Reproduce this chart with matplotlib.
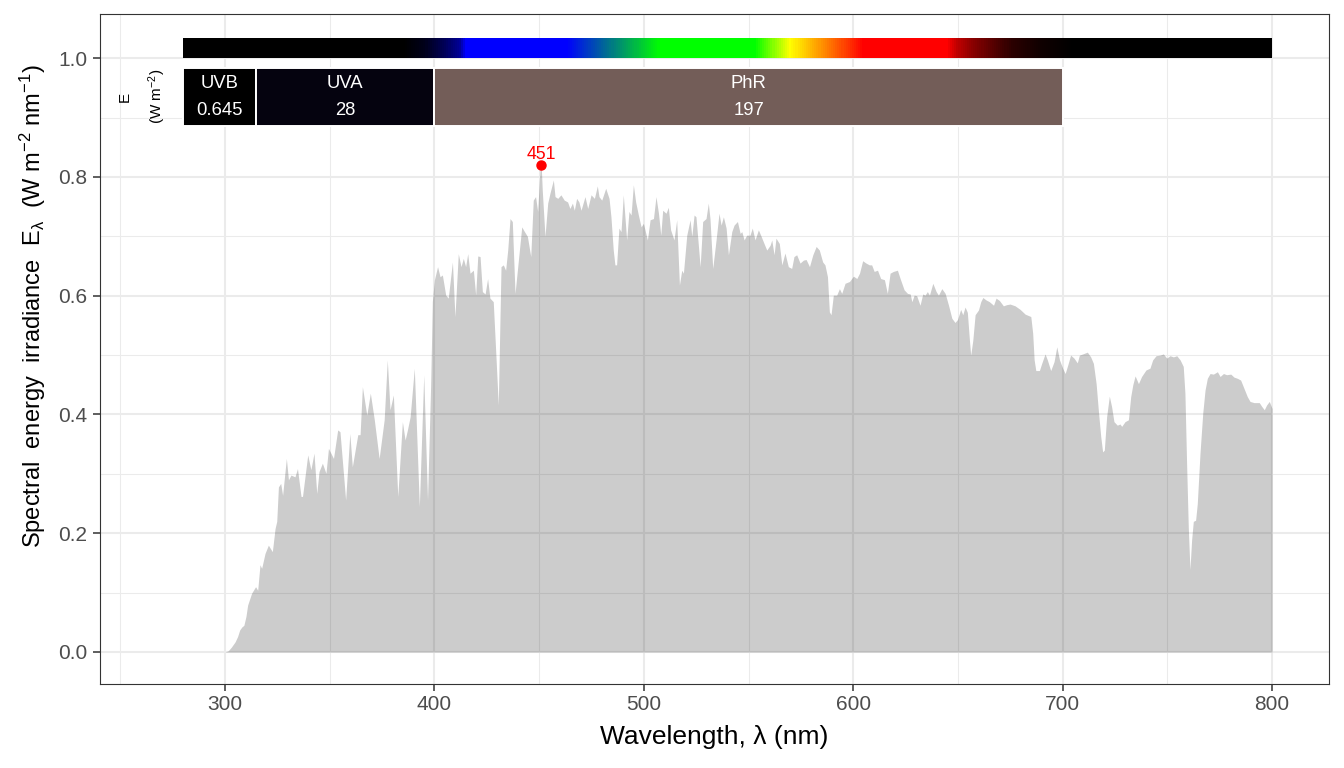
import numpy as np
import matplotlib
matplotlib.use("Agg")
import matplotlib.pyplot as plt
from matplotlib.patches import Rectangle
from matplotlib.ticker import MultipleLocator

plt.rcParams['font.family'] = ['Liberation Sans', 'DejaVu Sans']
plt.rcParams['mathtext.fontset'] = 'custom'
plt.rcParams['mathtext.rm'] = 'Liberation Sans'
plt.rcParams['mathtext.it'] = 'Liberation Sans:italic'
plt.rcParams['mathtext.bf'] = 'Liberation Sans:bold'

# ---- spectrum data (wavelength nm, spectral irradiance W m-2 nm-1) ----
wavelength = [280, 295, 300, 301.5, 303, 304.8, 306, 307, 308, 309, 310, 310.8, 312.7, 314.6, 315.6,
              316.7, 317.5, 319.1, 320.7, 322.6, 323.9, 324.7, 325.5, 326.6, 327.5, 329.3, 330.3, 331.5,
              333.4, 334.6, 336.3, 337, 339.5, 341, 342.5, 343.8, 344.9, 346.5, 348.2, 349.4, 351.8,
              353.8, 354.9, 357.6, 359.6, 360.8, 363.4, 364.5, 365.6, 367.7, 369.4, 371.3, 373.6, 376,
              377.5, 378.8, 380.4, 382.5, 384.7, 386, 387.1, 388.4, 390.4, 392.8, 394.9, 396.7, 398.2,
              399, 400, 401.5, 402.7, 403.8, 405.4, 406.6, 408.6, 409.8, 411.4, 412.7, 413.8, 414.9,
              415.9, 417, 418.6, 419.7, 420.7, 421.8, 422.9, 424.2, 425.4, 426.5, 428.1, 429.4, 430.5,
              431.8, 432.9, 434, 435, 436.1, 437.2, 438.5, 440.1, 441.7, 443, 444.4, 446, 447.2, 448.3,
              449.3, 450.4, 451, 451.5, 452.8, 454.1, 455.2, 456.8, 457.6, 458.9, 460.4, 462, 463.6,
              464.7, 465.9, 466.8, 467.9, 469, 470, 471.9, 473.2, 474.8, 476.4, 477.8, 478.6, 479.9,
              481.8, 483.4, 484.3, 485.4, 486.2, 487, 488.1, 489.1, 490.2, 491.8, 492.9, 493.9, 495,
              496.1, 497.4, 498.7, 499.8, 501.7, 503, 504.6, 505.8, 507, 508.1, 509, 510.6, 511.7,
              512.8, 514.4, 515.7, 517, 518.1, 518.9, 520.5, 522.1, 522.9, 524, 524.9, 526.9, 528.1,
              529.7, 530.8, 531.6, 532.9, 534.5, 535.9, 536.9, 538, 539.3, 540.4, 542, 543.1, 544.7,
              546, 546.8, 547.9, 549.1, 550.7, 551.8, 553.1, 554.7, 555.8, 557.4, 558.7, 560.3, 561.1,
              562.2, 563.1, 564.7, 565.9, 567.4, 569, 570.6, 571.7, 573, 574.6, 576.2, 577.5, 579.1,
              580.7, 582.3, 583.8, 585.4, 586.5, 587.7, 588.6, 589.4, 590.5, 592.1, 593.4, 594.5,
              596.1, 598.2, 600.1, 601.7, 603, 604.5, 606.1, 607.7, 608.8, 610, 611.6, 613.1, 614.9,
              616.3, 617.6, 619.2, 621.1, 622.4, 624.3, 625.9, 627.2, 628, 629.1, 630.3, 631.9, 633.2,
              634.3, 635.4, 636.4, 638, 639.6, 640.7, 642.3, 643.9, 645.5, 647.1, 648.6, 649.8, 651.3,
              652.3, 653.4, 654.5, 655.5, 656.1, 657.1, 658.2, 659.8, 660.9, 661.9, 663.4, 665, 667,
              668.2, 669.8, 671.7, 673.3, 674.9, 677.3, 679.7, 682.1, 684.8, 685.7, 686.4, 687.2,
              688.9, 690, 691.6, 692.7, 694.3, 695.9, 697.2, 698.5, 700, 701.2, 702.5, 703.8, 705.4,
              707, 708, 709.6, 711.8, 713.4, 714.7, 716, 717.1, 718.2, 719.1, 719.9, 721, 722.3, 723.4,
              724.5, 726.1, 727.4, 728.2, 729.8, 731.4, 732.5, 733.5, 734.6, 736.2, 737.7, 739.8,
              741.7, 743, 744.6, 746.5, 748.1, 749.7, 751.3, 752.9, 754.5, 756.1, 757.6, 758.4, 759.2,
              760, 760.8, 761.6, 762.4, 763.5, 764.3, 765.6, 766.9, 768, 769.1, 770.4, 772, 773.9,
              775.2, 776.8, 778.3, 780.3, 781.8, 783.4, 785, 786.6, 788.2, 789.5, 791.4, 793.9, 795,
              796.3, 797.4, 798.7, 800]
irradiance = [0, 0, 0, 0.002, 0.008, 0.017, 0.026, 0.037, 0.042, 0.045, 0.06, 0.079, 0.099, 0.110, 0.104,
              0.147, 0.141, 0.166, 0.180, 0.169, 0.208, 0.22, 0.278, 0.284, 0.264, 0.326, 0.290, 0.298,
              0.295, 0.309, 0.262, 0.262, 0.332, 0.307, 0.335, 0.267, 0.304, 0.318, 0.301, 0.343, 0.326,
              0.374, 0.371, 0.256, 0.368, 0.312, 0.366, 0.366, 0.447, 0.399, 0.436, 0.391, 0.326, 0.391,
              0.492, 0.408, 0.433, 0.262, 0.388, 0.357, 0.374, 0.396, 0.478, 0.245, 0.467, 0.256, 0.45,
              0.59, 0.627, 0.649, 0.632, 0.635, 0.601, 0.596, 0.657, 0.565, 0.671, 0.649, 0.663, 0.649,
              0.671, 0.638, 0.643, 0.601, 0.667, 0.666, 0.607, 0.603, 0.629, 0.596, 0.590, 0.497, 0.416,
              0.649, 0.652, 0.643, 0.677, 0.730, 0.725, 0.604, 0.660, 0.716, 0.708, 0.700, 0.666, 0.761, 0.767,
              0.742, 0.812, 0.820, 0.778, 0.700, 0.756, 0.773, 0.795, 0.767, 0.764, 0.770, 0.761, 0.758,
              0.747, 0.756, 0.744, 0.764, 0.758, 0.744, 0.767, 0.747, 0.770, 0.764, 0.785, 0.767, 0.761,
              0.781, 0.764, 0.733, 0.677, 0.652, 0.652, 0.714, 0.708, 0.770, 0.694, 0.742, 0.736, 0.787,
              0.758, 0.736, 0.716, 0.722, 0.694, 0.728, 0.730, 0.767, 0.739, 0.702, 0.744, 0.739, 0.749,
              0.711, 0.694, 0.728, 0.618, 0.643, 0.638, 0.702, 0.728, 0.700, 0.736, 0.733, 0.649, 0.725,
              0.730, 0.756, 0.730, 0.646, 0.694, 0.739, 0.719, 0.733, 0.714, 0.669, 0.708, 0.719, 0.725,
              0.705, 0.708, 0.694, 0.702, 0.702, 0.714, 0.694, 0.711, 0.702, 0.688, 0.677, 0.685, 0.694,
              0.669, 0.697, 0.688, 0.652, 0.672, 0.649, 0.646, 0.666, 0.669, 0.655, 0.660, 0.661, 0.649,
              0.669, 0.683, 0.677, 0.657, 0.652, 0.632, 0.573, 0.568, 0.601, 0.601, 0.612, 0.604,
              0.621, 0.624, 0.633, 0.629, 0.638, 0.659, 0.655, 0.652, 0.652, 0.641, 0.643, 0.629, 0.627,
              0.604, 0.638, 0.641, 0.643, 0.629, 0.610, 0.604, 0.603, 0.590, 0.601, 0.600, 0.584, 0.603,
              0.601, 0.607, 0.601, 0.621, 0.607, 0.601, 0.612, 0.604, 0.584, 0.562, 0.555, 0.560, 0.577,
              0.568, 0.581, 0.572, 0.525, 0.500, 0.525, 0.568, 0.576, 0.590, 0.597, 0.593, 0.590, 0.584,
              0.596, 0.592, 0.583, 0.585, 0.586, 0.583, 0.577, 0.569, 0.565, 0.537, 0.492, 0.474,
              0.474, 0.486, 0.502, 0.492, 0.474, 0.489, 0.514, 0.492, 0.478, 0.469, 0.484, 0.500, 0.495,
              0.487, 0.500, 0.502, 0.505, 0.497, 0.486, 0.452, 0.405, 0.363, 0.337, 0.340, 0.396, 0.431, 0.413,
              0.388, 0.382, 0.384, 0.380, 0.388, 0.391, 0.430, 0.450, 0.465, 0.452, 0.464, 0.475,
              0.478, 0.492, 0.499, 0.500, 0.502, 0.495, 0.499, 0.497, 0.499, 0.492, 0.481, 0.436, 0.318,
              0.211, 0.139, 0.189, 0.220, 0.222, 0.250, 0.335, 0.402, 0.441, 0.461, 0.469, 0.468, 0.472,
              0.464, 0.469, 0.467, 0.468, 0.463, 0.461, 0.458, 0.444, 0.430, 0.422, 0.420, 0.420, 0.414,
              0.408, 0.416, 0.422, 0.410]

# peak annotation
peak_wl = 451
peak_val = 0.820

# wavebands
band_names = ["UVB", "UVA", "PhR"]
band_lo = [280, 315, 400]
band_hi = [315, 400, 700]
band_values = ["0.645", "28", "197"]
band_colors = ["#000000", "#05030F", "#735D58"]

# colour bar anchors (wavelength -> RGB)
cbar_wl = [280, 385, 395, 405, 412, 415, 463, 508, 553, 570, 605, 645, 650, 657, 665, 676, 690, 705, 800]
cbar_r = [0, 0, 0, 0, 0, 0, 0, 0, 0, 1, 1, 1, .75, .55, .38, .17, .06, 0, 0]
cbar_g = [0, 0, 0, 0, 0, 0, 0, 1, 1, 1, 0, 0, 0, 0, 0, 0, 0, 0, 0]
cbar_b = [0, 0, .1, .35, .6, 1, 1, 0, 0, 0, 0, 0, 0, 0, 0, 0, 0, 0, 0]

# ---- figure ----
W, H = 1344, 768
fig = plt.figure(figsize=(W / 100, H / 100), dpi=100)
ax = fig.add_axes([100 / W, 1 - 684 / H, 1229 / W, 670 / H])
ax.set_xlim(240.3, 827.2)
ax.set_ylim(-0.0539, 1.0745)

ax.set_axisbelow(True)
ax.xaxis.set_major_locator(MultipleLocator(100))
ax.xaxis.set_minor_locator(MultipleLocator(50))
ax.yaxis.set_major_locator(MultipleLocator(0.2))
ax.yaxis.set_minor_locator(MultipleLocator(0.1))
ax.grid(which='major', color='#EBEBEB', linewidth=1.5)
ax.grid(which='minor', color='#EBEBEB', linewidth=0.75)
ax.set_xticks([300, 400, 500, 600, 700, 800])
ax.set_yticks([0.0, 0.2, 0.4, 0.6, 0.8, 1.0])
ax.set_yticklabels(["0.0", "0.2", "0.4", "0.6", "0.8", "1.0"])
ax.tick_params(which='major', length=4.7, width=1.1, color='#333333',
               labelsize=15, labelcolor='#4D4D4D')
ax.tick_params(axis='x', pad=3)
ax.tick_params(axis='y', pad=4.5)
ax.tick_params(which='minor', length=0)
for s in ax.spines.values():
    s.set_color('#333333')
    s.set_linewidth(0.8)

# spectrum area
ax.fill_between(wavelength, 0, irradiance, color='black', alpha=0.2, linewidth=0)

# colour bar
grid_wl = np.arange(280, 801, 1.0)
rgb = np.stack([np.interp(grid_wl, cbar_wl, cbar_r),
                np.interp(grid_wl, cbar_wl, cbar_g),
                np.interp(grid_wl, cbar_wl, cbar_b)], axis=-1)[None, :, :]
ax.imshow(rgb, extent=[280, 800, 1.0, 1.032], aspect='auto', interpolation='nearest', zorder=3)

# waveband boxes
for name, lo, hi, val, col in zip(band_names, band_lo, band_hi, band_values, band_colors):
    ax.add_patch(Rectangle((lo, 0.886), hi - lo, 0.098, facecolor=col, edgecolor='white',
                           linewidth=1.4, zorder=4))
    xc = (lo + hi) / 2
    ax.text(xc, 0.957, name, ha='center', va='center', color='white', fontsize=13.3, zorder=5)
    ax.text(xc, 0.912, val, ha='center', va='center', color='white', fontsize=13.3, zorder=5)

ax.text(252.2, 0.935, "E", rotation=90, ha='center', va='center', fontsize=11, color='black')
ax.text(267.5, 0.935, "(W m$^{-2}$)", rotation=90, ha='center', va='center', fontsize=11, color='black')

# peak
ax.plot([peak_wl], [peak_val], 'o', color='red', markersize=6.5, zorder=6)
ax.text(peak_wl, peak_val + 0.004, str(peak_wl), ha='center', va='bottom', color='red', fontsize=12.7, zorder=6)

# axis titles
fig.text(714 / W, 1 - 737 / H, "Wavelength, λ (nm)", ha='center', va='center', fontsize=19, color='black')
fig.text(33 / W, 1 - 306 / H,
         r"Spectral  energy  irradiance  E$_{\mathrm{λ}}$  (W m$^{-2}$ nm$^{-1}$)",
         rotation=90, ha='center', va='center', fontsize=17, color='black')

fig.savefig("out.png", dpi=100)
